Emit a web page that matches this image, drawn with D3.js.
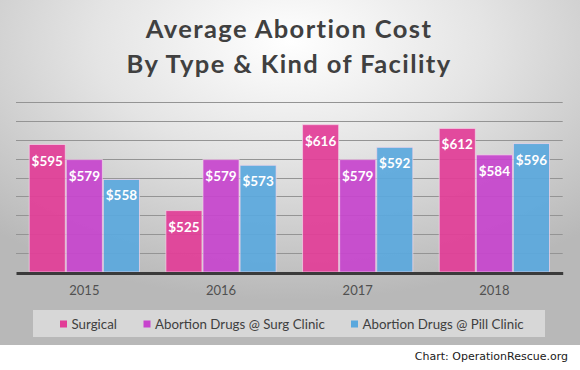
<!DOCTYPE html>
<html>
<head>
<meta charset="utf-8">
<script src="https://cdnjs.cloudflare.com/ajax/libs/d3/7.8.5/d3.min.js"></script>
<style>
  body { margin: 0; background: #fff; }
  svg { display: block; }
</style>
</head>
<body>
<div class="chart"></div>
<script>
'use strict';

const years = ['2015', '2016', '2017', '2018'];
const seriesNames = ['Surgical', 'Abortion Drugs @ Surg Clinic', 'Abortion Drugs @ Pill Clinic'];
const surgical = [595, 525, 616, 612];
const drugsSurg = [579, 579, 579, 584];
const drugsPill = [558, 573, 592, 596];
const gridTicks = [460, 480, 500, 520, 540, 560, 580, 600, 620, 640];
const colors = ['#e23d97', '#c744cd', '#5aa8dd'];

const FULL_WIDTH = 580;
const FULL_HEIGHT = 370;
const plot = { left: 16, right: 562.7, top: 102, bottom: 272 };

const svg = d3.select('.chart')
  .append('svg')
    .attr('width', FULL_WIDTH)
    .attr('height', FULL_HEIGHT);

// background
const defs = svg.append('defs');
const grad = defs.append('radialGradient')
  .attr('id', 'bg')
  .attr('cx', '50%').attr('cy', '12%')
  .attr('r', '75%')
  .attr('fx', '50%').attr('fy', '12%');
grad.append('stop').attr('offset', '0%').attr('stop-color', '#ffffff');
grad.append('stop').attr('offset', '45%').attr('stop-color', '#e4e4e4');
grad.append('stop').attr('offset', '100%').attr('stop-color', '#b8b8b8');

svg.append('rect')
  .attr('width', FULL_WIDTH)
  .attr('height', 345)
  .attr('fill', 'url(#bg)');

// title
const titleLines = [['Average Abortion Cost', 37.7], ['By Type & Kind of Facility', 72.5]];
svg.selectAll('.title')
  .data(titleLines)
  .enter()
  .append('text')
  .attr('class', 'title')
  .attr('x', 289).attr('y', (d) => d[1])
  .attr('text-anchor', 'middle')
  .attr('font-family', 'Lato')
  .attr('font-weight', 700)
  .attr('font-size', 25.5)
  .attr('letter-spacing', 1.4)
  .attr('fill', '#404040')
  .text((d) => d[0]);

const x = d3.scaleBand()
  .domain(years)
  .range([plot.left, plot.right])
  .paddingInner(0.186)
  .paddingOuter(0.093);

const xs = d3.scaleBand()
  .domain(seriesNames)
  .range([0, x.bandwidth()]);

const y = d3.scaleLinear()
  .domain([460, 640])
  .range([plot.bottom, plot.top]);

// gridlines
svg.selectAll('.grid')
  .data(gridTicks.slice(1))
  .enter()
  .append('line')
  .attr('class', 'grid')
  .attr('x1', plot.left)
  .attr('x2', plot.right)
  .attr('y1', (d) => Math.round(y(d)) + 0.5)
  .attr('y2', (d) => Math.round(y(d)) + 0.5)
  .attr('stroke', '#949494')
  .attr('stroke-width', 1);

const rows = [];
years.forEach((yr, i) => {
  [surgical, drugsSurg, drugsPill].forEach((vals, j) => {
    rows.push({ year: yr, series: seriesNames[j], value: vals[i], c: colors[j] });
  });
});

svg.selectAll('.bar')
  .data(rows)
  .enter()
  .append('rect')
  .attr('class', 'bar')
  .attr('x', (d) => x(d.year) + xs(d.series) + 0.5)
  .attr('y', (d) => y(d.value))
  .attr('width', xs.bandwidth() - 1)
  .attr('height', (d) => plot.bottom - y(d.value))
  .attr('fill', (d) => d.c)
  .attr('fill-opacity', 0.92)
  .attr('stroke', '#f3d6ea')
  .attr('stroke-opacity', 0.7)
  .attr('stroke-width', 1);

svg.selectAll('.val')
  .data(rows)
  .enter()
  .append('text')
  .attr('class', 'val')
  .attr('x', (d) => x(d.year) + xs(d.series) + xs.bandwidth() / 2)
  .attr('y', (d) => y(d.value) + 21)
  .attr('text-anchor', 'middle')
  .attr('font-family', 'Lato')
  .attr('font-weight', 700)
  .attr('font-size', 13.5)
  .attr('fill', '#ffffff')
  .text((d) => '$' + d.value);

// baseline + x axis
const xAxis = svg.append('g')
  .attr('transform', 'translate(0,' + (plot.bottom + 1) + ')')
  .call(d3.axisBottom(x).tickSize(0).tickPadding(13));
xAxis.select('.domain')
  .attr('stroke', '#3a3a3a')
  .attr('stroke-width', 3);
xAxis.selectAll('text')
  .attr('font-family', 'Lato')
  .attr('font-size', 13)
  .attr('fill', '#505050');

// legend
svg.append('rect')
  .attr('x', 33).attr('y', 310)
  .attr('width', 512).attr('height', 27)
  .attr('fill', '#e2e2e2')
  .attr('fill-opacity', 0.75);

const legendX = [60, 143.5, 351];
const legend = svg.selectAll('.legend')
  .data(seriesNames)
  .enter()
  .append('g')
  .attr('class', 'legend')
  .attr('transform', (d, i) => 'translate(' + legendX[i] + ',324)');
legend.append('rect')
  .attr('x', 0).attr('y', -3.5)
  .attr('width', 7).attr('height', 7)
  .attr('fill', (d, i) => colors[i]);
legend.append('text')
  .attr('x', 11.5).attr('y', 4.5)
  .attr('font-family', 'Lato')
  .attr('font-size', 13.3)
  .attr('fill', '#404040')
  .text((d) => d);

svg.append('text')
  .attr('x', 568).attr('y', 360)
  .attr('text-anchor', 'end')
  .attr('font-family', 'DejaVu Sans')
  .attr('font-size', 11)
  .attr('fill', '#202020')
  .text('Chart: OperationRescue.org');
</script>
</body>
</html>
